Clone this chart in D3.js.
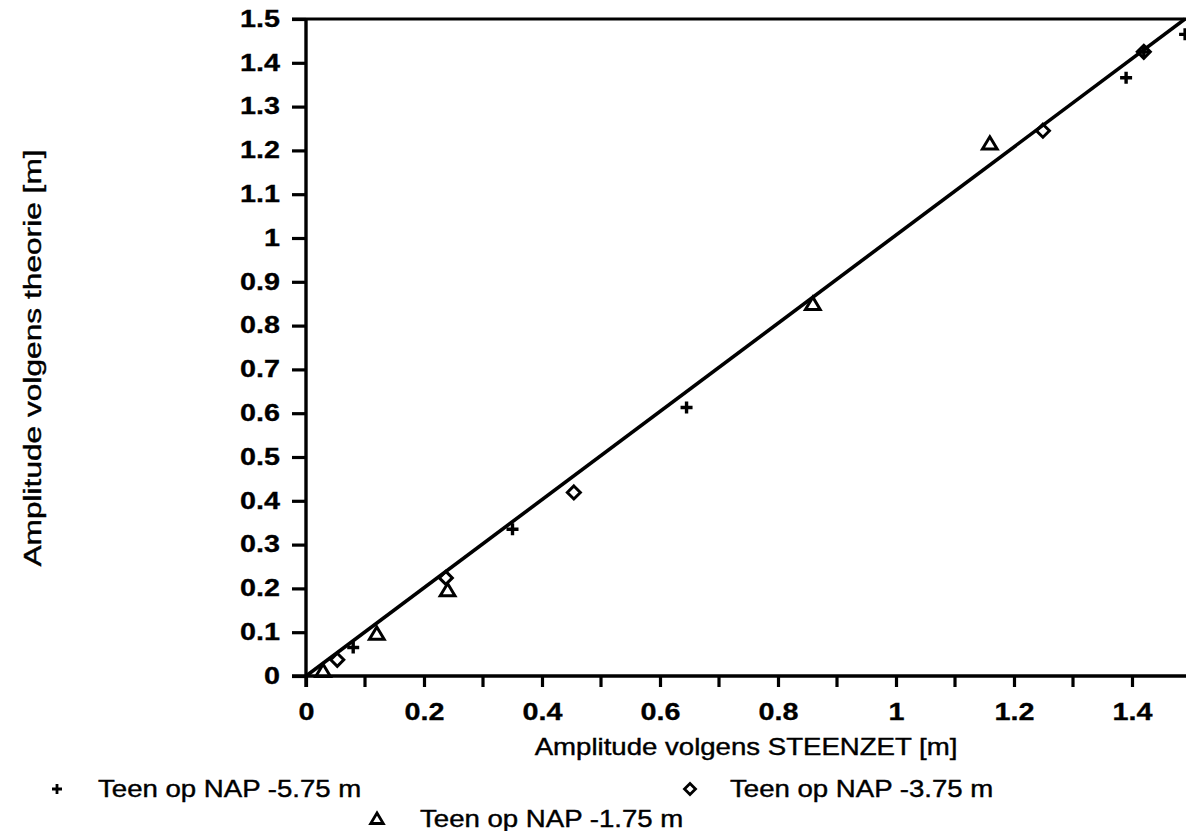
<!DOCTYPE html>
<html>
<head>
<meta charset="utf-8">
<script src="https://cdn.jsdelivr.net/npm/d3@7"></script>
<style>
  html, body { margin: 0; padding: 0; background: #fff; }
  svg { display: block; }
  text { font-family: "Liberation Sans", Arial, Helvetica, sans-serif; fill: #000; }
</style>
</head>
<body>
<svg id="chart" width="1186" height="831"></svg>
<script>
// ---- data ----
const xTickValues = [0, 0.2, 0.4, 0.6, 0.8, 1, 1.2, 1.4];
const xTickLabels = ["0", "0.2", "0.4", "0.6", "0.8", "1", "1.2", "1.4"];
const xMinorTicks = [0.1, 0.3, 0.5, 0.7, 0.9, 1.1, 1.3, 1.5];
const yTickValues = [0, 0.1, 0.2, 0.3, 0.4, 0.5, 0.6, 0.7, 0.8, 0.9, 1, 1.1, 1.2, 1.3, 1.4, 1.5];
const yTickLabels = ["0", "0.1", "0.2", "0.3", "0.4", "0.5", "0.6", "0.7", "0.8", "0.9", "1", "1.1", "1.2", "1.3", "1.4", "1.5"];

// Teen op NAP -5.75 m (plus)
const plusX = [0.08, 0.35, 0.645, 1.39, 1.42, 1.49];
const plusY = [0.065, 0.335, 0.613, 1.366, 1.425, 1.465];
// Teen op NAP -3.75 m (diamond)
const diamondX = [0.053, 0.237, 0.454, 1.249, 1.42];
const diamondY = [0.037, 0.224, 0.419, 1.245, 1.425];
// Teen op NAP -1.75 m (triangle)
const triangleX = [0.029, 0.12, 0.24, 0.859, 1.159];
const triangleY = [0.011, 0.096, 0.195, 0.849, 1.215];

// reference line (theorie = STEENZET)
const lineX = [0, 1.49];
const lineY = [0, 1.5];

const seriesNames = ["Teen op NAP -5.75 m", "Teen op NAP -3.75 m", "Teen op NAP -1.75 m"];
const xTitle = "Amplitude volgens STEENZET [m]";
const yTitle = "Amplitude volgens theorie [m]";

// ---- layout ----
const svg = d3.select("#chart");
const x = d3.scaleLinear().domain([0, 1.5]).range([306, 1191]);
const y = d3.scaleLinear().domain([0, 1.5]).range([676, 19]);
const SX = 1.2;   // horizontal stretch of the scanned typeface
const SXT = 1.25; // stretch for tick labels

// frame top line (1.5 level)
svg.append("line")
  .attr("x1", x(0) - 14).attr("x2", 1186)
  .attr("y1", y(1.5)).attr("y2", y(1.5))
  .attr("stroke", "#000").attr("stroke-width", 3.2);

// y axis
const yAxis = d3.axisLeft(y).tickValues(yTickValues)
  .tickFormat((d, i) => yTickLabels[i]).tickSize(14).tickSizeOuter(0).tickPadding(12);
const gy = svg.append("g").attr("transform", `translate(${x(0)},0)`).call(yAxis);
gy.attr("font-size", 23);
gy.select(".domain").attr("stroke-width", 3.4).attr("d", `M0,${y(1.5)}V${y(0) + 11}`);
gy.selectAll(".tick line").attr("stroke-width", 3.2);
gy.selectAll(".tick text")
  .attr("font-size", 23).attr("font-weight", "bold")
  .attr("font-family", "Liberation Sans, Arial, sans-serif")
  .attr("stroke", "#000").attr("stroke-width", 0.3)
  .each(function() {
    const t = d3.select(this);
    const xx = +t.attr("x");
    t.attr("x", null).attr("transform", `translate(${xx},0) scale(${SXT},1)`);
  });

// x axis
const xAxis = d3.axisBottom(x).tickValues(xTickValues)
  .tickFormat((d, i) => xTickLabels[i]).tickSize(11).tickSizeOuter(0).tickPadding(17);
const gx = svg.append("g").attr("transform", `translate(0,${y(0)})`).call(xAxis);
gx.attr("font-size", 23);
gx.select(".domain").attr("stroke-width", 3.4).attr("d", `M${x(0) - 14},0H1186`);
gx.selectAll(".tick line").attr("stroke-width", 3.2);
gx.selectAll(".tick text")
  .attr("font-size", 23).attr("font-weight", "bold")
  .attr("font-family", "Liberation Sans, Arial, sans-serif")
  .attr("stroke", "#000").attr("stroke-width", 0.3)
  .each(function() {
    const t = d3.select(this);
    const yy = +t.attr("y");
    t.attr("y", null).attr("transform", `translate(0,${yy}) scale(${SXT},1)`);
  });
// minor ticks
gx.selectAll(".minor").data(xMinorTicks).enter().append("line")
  .attr("class", "minor")
  .attr("x1", d => x(d)).attr("x2", d => x(d))
  .attr("y1", 0).attr("y2", 11)
  .attr("stroke", "#000").attr("stroke-width", 3.2);

// reference line
const lineData = lineX.map((v, i) => [v, lineY[i]]);
svg.append("path")
  .datum(lineData)
  .attr("d", d3.line().x(d => x(d[0])).y(d => y(d[1])))
  .attr("fill", "none").attr("stroke", "#000").attr("stroke-width", 3.6);

// marker shapes
function plusPath(s) { return `M${-s},0H${s}M0,${-s}V${s}`; }
function diamondPath(s) { return `M0,${-s}L${s},0L0,${s}L${-s},0Z`; }
function trianglePath(s) { return `M0,${-s}L${s * 1.05},${s * 0.75}L${-s * 1.05},${s * 0.75}Z`; }

const markers = svg.append("g");
markers.selectAll(".plus").data(plusX.map((v, i) => [v, plusY[i]])).enter()
  .append("path").attr("class", "plus")
  .attr("transform", d => `translate(${x(d[0])},${y(d[1])})`)
  .attr("d", plusPath(6)).attr("stroke", "#000").attr("stroke-width", 3.4).attr("fill", "none");
markers.selectAll(".diamond").data(diamondX.map((v, i) => [v, diamondY[i]])).enter()
  .append("path").attr("class", "diamond")
  .attr("transform", d => `translate(${x(d[0])},${y(d[1])})`)
  .attr("d", diamondPath(6.5)).attr("stroke", "#000").attr("stroke-width", 3).attr("fill", "none");
markers.selectAll(".triangle").data(triangleX.map((v, i) => [v, triangleY[i]])).enter()
  .append("path").attr("class", "triangle")
  .attr("transform", d => `translate(${x(d[0])},${y(d[1])})`)
  .attr("d", trianglePath(7)).attr("stroke", "#000").attr("stroke-width", 3).attr("fill", "none");

// axis titles
svg.append("text")
  .attr("transform", `translate(746,755) scale(${SX},1)`)
  .attr("text-anchor", "middle").attr("font-size", 23)
  .attr("stroke", "#000").attr("stroke-width", 0.4)
  .text(xTitle);
svg.append("text")
  .attr("transform", `translate(41,358) rotate(-90) scale(1.32,1)`)
  .attr("text-anchor", "middle").attr("font-size", 24)
  .attr("stroke", "#000").attr("stroke-width", 0.4)
  .text(yTitle);

// legend
const legend = [
  { name: seriesNames[0], shape: plusPath(5), mx: 57, tx: 98, y: 789 },
  { name: seriesNames[1], shape: diamondPath(5.5), mx: 690, tx: 730, y: 789 },
  { name: seriesNames[2], shape: trianglePath(6), mx: 377, tx: 420, y: 819 }
];
const lg = svg.append("g").selectAll("g").data(legend).enter().append("g");
lg.append("path")
  .attr("transform", d => `translate(${d.mx},${d.y})`)
  .attr("d", d => d.shape).attr("stroke", "#000").attr("stroke-width", 2.8).attr("fill", "none");
lg.append("text")
  .attr("transform", d => `translate(${d.tx},${d.y + 8}) scale(${SX},1)`)
  .attr("font-size", 23)
  .attr("stroke", "#000").attr("stroke-width", 0.4)
  .text(d => d.name);
</script>
</body>
</html>
